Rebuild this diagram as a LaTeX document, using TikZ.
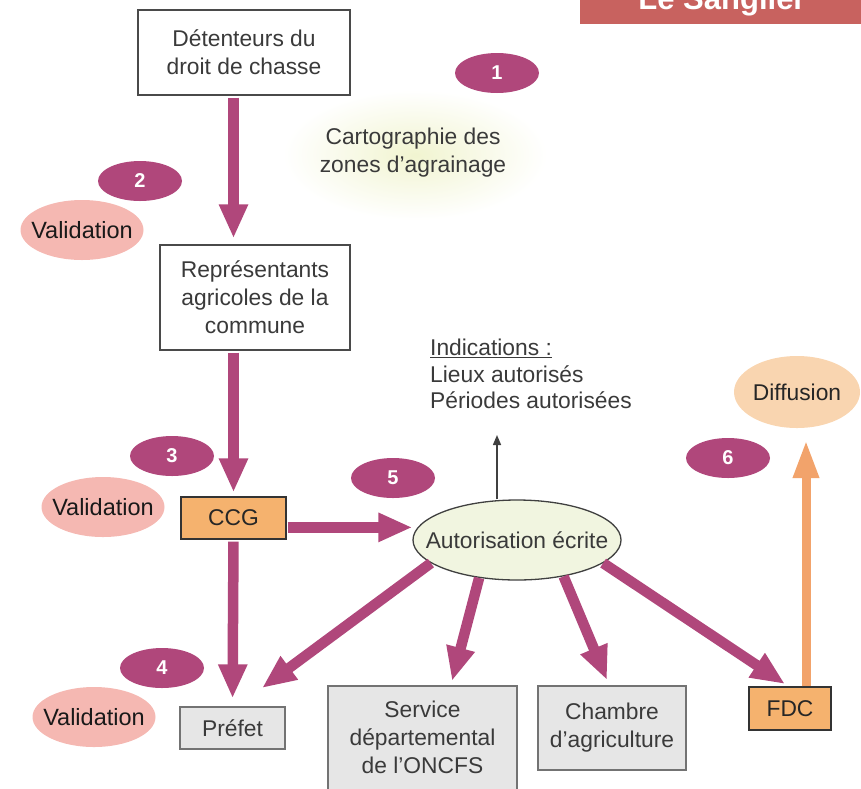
\documentclass[tikz,border=0pt]{standalone}
\usepackage{fontspec}
\setmainfont{Liberation Sans}
\usetikzlibrary{shapes.geometric,arrows.meta}
\definecolor{plum}{HTML}{B0477B}
\definecolor{bannerred}{HTML}{C8625F}
\definecolor{txtgray}{HTML}{3A3A3A}
\definecolor{pinkval}{HTML}{F5B8B2}
\definecolor{orangefill}{HTML}{F5B26E}
\definecolor{orangearrow}{HTML}{F2A36B}
\definecolor{difffill}{HTML}{F9D5B0}
\definecolor{autfill}{HTML}{F1F5E0}
\definecolor{glow}{HTML}{F1F4D0}
\definecolor{grayfill}{HTML}{E6E6E6}
\definecolor{bordergray}{HTML}{4A4A4A}
\tikzset{
  box/.style={draw=bordergray, line width=1.3pt, fill=white, text=txtgray, align=center,
              font=\fontsize{22.8}{28}\selectfont, inner sep=0pt},
  graybox/.style={box, fill=grayfill, draw=black!55},
  orangebox/.style={box, fill=orangefill, draw=black!80, text=black!85},
  plaintext/.style={text=txtgray, align=center, font=\fontsize{22.8}{28}\selectfont, inner sep=0pt},
  badge/.style={ellipse, fill=plum, text=white, font=\bfseries\fontsize{20}{20}\selectfont,
                minimum width=84pt, minimum height=40pt, inner sep=0pt},
  valid/.style={ellipse, fill=pinkval, text=black!90, font=\fontsize{23.5}{26}\selectfont,
                minimum width=123pt, minimum height=60pt, inner xsep=-14pt, inner ysep=0pt},
  parrow/.style={draw=plum, line width=10.5pt, -{Triangle[length=34pt,width=27pt]}},
  oarrow/.style={draw=orangearrow, line width=9pt, -{Triangle[length=38pt,width=24pt]}},
  thinarrow/.style={draw=black!75, line width=1.5pt, -{Triangle[length=10pt,width=8pt]}},
}
\begin{document}
\begin{tikzpicture}[x=1pt,y=-1pt]
\useasboundingbox (0,0) rectangle (861,788);
\clip (0,0) rectangle (861,788);

% banner
\fill[bannerred] (580,-30) rectangle (861,24);
\node[anchor=base, text=white, font=\bfseries\fontsize{31}{31}\selectfont, inner sep=0pt] (banner) at (722,9) {Le Sanglier};

% soft glow
\shade[inner color=glow, outer color=white] (415,155) ellipse [x radius=132, y radius=65];
\node[plaintext] (carto) at (413,153) {Cartographie des\\zones d’agrainage};

% boxes
\node[box, minimum width=212pt, minimum height=85pt] (det) at (244,52.5) {Détenteurs du\\droit de chasse};
\node[box, minimum width=190pt, minimum height=105pt] (rep) at (255,297.5) {Représentants\\agricoles de la\\commune};
\node[orangebox, minimum width=105pt, minimum height=42pt] (ccg) at (233.5,518) {CCG};
\node[graybox, minimum width=105pt, minimum height=42pt] (pref) at (232.5,728) {Préfet};
\node[graybox, minimum width=189pt, minimum height=120pt] (serv) at (422.5,746) {};
\node[plaintext] (servtxt) at (422.5,737.5) {Service\\départemental\\de l’ONCFS};
\node[graybox, minimum width=148pt, minimum height=84pt] (cham) at (612,728) {Chambre\\d’agriculture};
\node[orangebox, minimum width=82pt, minimum height=43pt] (fdc) at (790,708.5) {FDC};

% ellipses
\node[ellipse, draw=black!75, line width=1.3pt, fill=autfill, text=txtgray,
      font=\fontsize{22.8}{28}\selectfont, minimum width=208pt, minimum height=80pt,
      inner xsep=-40pt, inner ysep=0pt] (aut) at (517,540) {Autorisation écrite};
\node[ellipse, fill=difffill, text=black!85, font=\fontsize{22.8}{28}\selectfont,
      minimum width=126pt, minimum height=72pt, inner xsep=-12pt, inner ysep=0pt] (diff) at (797,392) {Diffusion};

% indications
\node[anchor=north west, align=left, text=txtgray, font=\fontsize{22.8}{26.5}\selectfont, inner sep=0pt] (ind) at (430,339)
  {\underline{Indications :}\\Lieux autorisés\\Périodes autorisées};

% badges
\node[badge] (b1) at (497,73) {1};
\node[badge] (b2) at (140,181) {2};
\node[badge] (b3) at (172,456) {3};
\node[badge] (b4) at (162,668) {4};
\node[badge] (b5) at (393,478) {5};
\node[badge] (b6) at (728,458) {6};

% validations
\node[valid] (v1) at (82,230) {Validation};
\node[valid] (v2) at (103,507) {Validation};
\node[valid] (v3) at (94,717) {Validation};

% coordinates
\coordinate (tpref) at (262,688);
\coordinate (tserv) at (452,681);
\coordinate (tcham) at (607,680);
\coordinate (tfdc) at (785,684);
\coordinate (tind) at (497,435);
\coordinate (odiff) at (806,440);

% arrows
\draw[parrow, shorten <=2pt, shorten >=6pt] (det.south -| ccg.north) -- (rep.north -| ccg.north);
\draw[parrow, shorten <=2pt, shorten >=4pt] (rep.south -| ccg.north) -- (ccg.north);
\draw[parrow, shorten <=2pt, shorten >=8pt] (ccg.south) -- (pref.north);
\draw[parrow, shorten <=1pt] (ccg.-10) -- (aut.west |- ccg.-10);
\draw[parrow] (aut.195) -- (tpref);
\draw[parrow] (aut.225) -- (tserv);
\draw[parrow] (aut.322) -- (tcham);
\draw[parrow] (aut.345) -- (tfdc);
\draw[thinarrow] (aut.north -| tind) -- (tind);
\draw[oarrow, shorten <=0pt] (fdc.north -| odiff) -- (odiff);
\end{tikzpicture}
\end{document}
